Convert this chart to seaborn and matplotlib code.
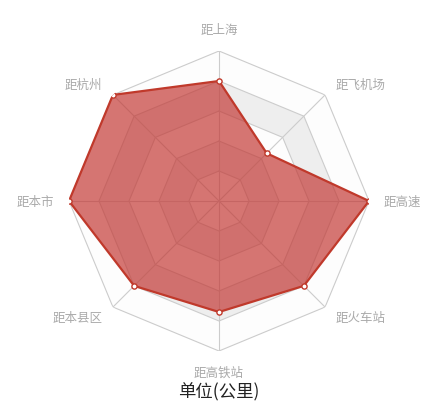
import numpy as np
import matplotlib
matplotlib.use("Agg")
import matplotlib.pyplot as plt
import seaborn as sns

# -------------------------------
# data
# -------------------------------
categories = ['距上海', '距飞机场', '距高速', '距火车站', '距高铁站', '距本县区', '距本市', '距杭州']
values = [80, 45, 100, 80, 74, 80, 100, 100]
max_value = 100
ring_levels = [20, 40, 60, 80, 100]
title_text = '单位(公里)'

sns.set_theme(style='white')
plt.rcParams['font.family'] = ['Noto Sans CJK SC', 'DejaVu Sans']

n = len(categories)
angles = np.linspace(0, 2 * np.pi, n, endpoint=False)
angles_closed = np.append(angles, angles[0])
vals_closed = np.append(values, values[0])

fig = plt.figure(figsize=(4.37, 4.10), dpi=100)
ax = fig.add_axes([69 / 437, 58 / 410, 300 / 437, 300 / 410], projection='polar')
ax.set_theta_zero_location('N')
ax.set_theta_direction(-1)
ax.set_ylim(0, max_value)
ax.grid(False)
ax.set_xticks([])
ax.set_yticks([])
ax.spines['polar'].set_visible(False)
ax.set_facecolor('white')

# alternating split areas (inner band first)
band_colors = ['#fdfdfd', '#eeeeee']
inner = 0
for i, outer in enumerate(ring_levels):
    th = np.concatenate([angles_closed, angles_closed[::-1]])
    rr = np.concatenate([np.full(n + 1, outer), np.full(n + 1, inner)])
    ax.fill(th, rr, color=band_colors[i % 2], lw=0, zorder=1)
    inner = outer

# octagon rings and spokes
for lvl in ring_levels:
    ax.plot(angles_closed, np.full(n + 1, lvl), color='#cccccc', lw=0.8, zorder=2)
for a in angles:
    ax.plot([a, a], [0, max_value], color='#cccccc', lw=0.8, zorder=2)

# data polygon
red = '#c23531'
ax.fill(angles_closed, vals_closed, color=red, alpha=0.68, lw=0, zorder=3)
sns.lineplot(x=angles_closed, y=vals_closed, sort=False, estimator=None,
             color='#c0392b', lw=1.6, ax=ax, zorder=4)
sns.scatterplot(x=angles, y=values, s=14, color='white', edgecolor='#c0392b',
                linewidth=1.0, ax=ax, zorder=5)
ax.set_xlabel('')
ax.set_ylabel('')

# axis names
label_r = 110
for a, name in zip(angles, categories):
    s, c = np.sin(a), np.cos(a)
    if abs(s) < 1e-6:
        ha = 'center'
        va = 'bottom' if c > 0 else 'top'
    else:
        ha = 'left' if s > 0 else 'right'
        va = 'center'
    ax.text(a, label_r, name, ha=ha, va=va, fontsize=9, color='#aaaaaa',
            clip_on=False)

fig.text(219 / 437, 1 - 392 / 410, title_text, ha='center', va='center',
         fontsize=12.5, color='#222222')

fig.savefig('out.png', dpi=100, facecolor='white')
